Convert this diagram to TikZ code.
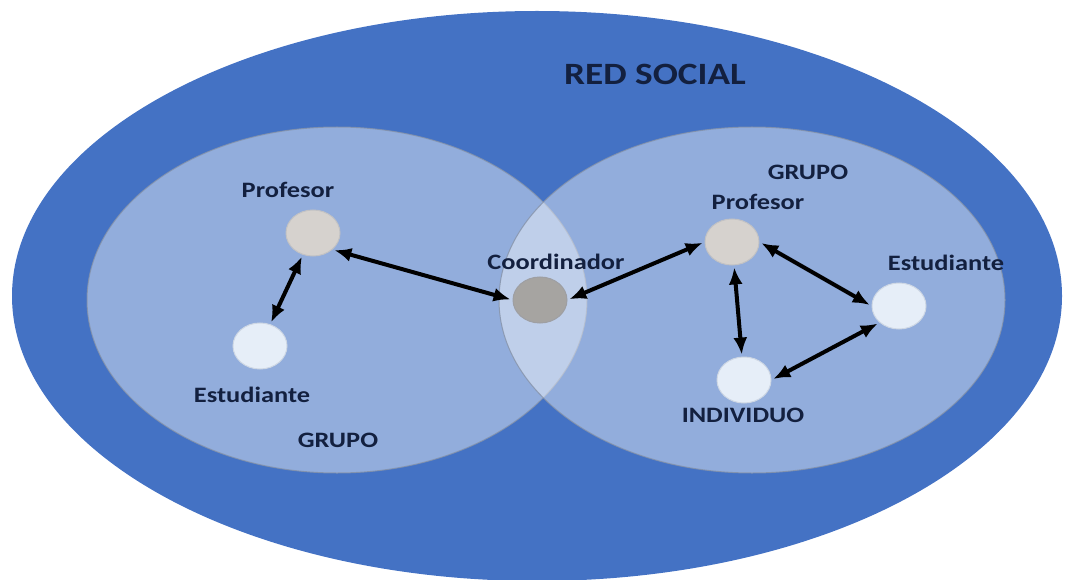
\documentclass[tikz,border=0pt]{standalone}
\usepackage{fontspec}
\newfontfamily\lblFont{Carlito}[FakeStretch=1.2]
\usetikzlibrary{shapes.geometric, arrows.meta, positioning}
\definecolor{netBlue}{HTML}{4472C4}
\definecolor{txtNavy}{HTML}{13203F}
\definecolor{profGrey}{HTML}{D6D2CE}
\definecolor{coordGrey}{HTML}{A6A4A1}
\definecolor{studWhite}{HTML}{E6EEF8}
\definecolor{rimGrey}{HTML}{8592A8}
\tikzset{
	personNode/.style={
		ellipse,
		minimum width=54pt,
		minimum height=46pt,
		inner sep=0pt,
		draw=#1!75!rimGrey,
		line width=1pt,
		fill=#1
	},
	profNode/.style={personNode=profGrey},
	coordNode/.style={personNode=coordGrey},
	studNode/.style={personNode=studWhite},
	groupFill/.style={
		fill=white,
		fill opacity=0.42,
		draw=rimGrey,
		draw opacity=0.8,
		line width=1pt
	},
	lblText/.style={
		anchor=base,
		text=txtNavy,
		font=\lblFont\bfseries\fontsize{22}{26}\selectfont
	},
	titleText/.style={
		anchor=base,
		text=txtNavy,
		font=\lblFont\bfseries\fontsize{31}{36}\selectfont
	},
}

\begin{document}
\begin{tikzpicture}[x=1pt, y=-1pt
    ,   linkEdge/.style={{Latex[length=17pt, width=14pt]}-{Latex[length=17pt, width=14pt]}, line width=4pt, black, shorten <=2pt, shorten >=2pt}]
\useasboundingbox (0,0) rectangle (1065,580);

% red social y grupos
\fill[netBlue] (537,296) ellipse [x radius=525pt, y radius=285pt];
\path[groupFill] (337,300) ellipse [x radius=250pt, y radius=173pt];
\path[groupFill] (752,300) ellipse [x radius=253pt, y radius=173pt];

\node[titleText] (tRed) at (655,85) {RED SOCIAL};
\node[lblText] (tGrpA) at (338,447) {GRUPO};
\node[lblText] (tGrpB) at (808,180) {GRUPO};

% personas
\node[profNode] (profA) at (313,233) {};
\node[studNode] (studA) at (260,346) {};
\node[coordNode] (coord) at (540,300) {};
\node[profNode] (profB) at (732,242) {};
\node[studNode] (studB) at (899,306) {};
\node[studNode] (indiv) at (744,380) {};

\node[lblText] (tProfA) at (288,198) {Profesor};
\node[lblText] (tStudA) at (252,402) {Estudiante};
\node[lblText] (tCoord) at (556,269) {Coordinador};
\node[lblText] (tProfB) at (758,209) {Profesor};
\node[lblText] (tStudB) at (946,270) {Estudiante};
\node[lblText] (tIndiv) at (743,422) {INDIVIDUO};

% relaciones
\draw[linkEdge] (profA) -- (studA);
\draw[linkEdge] (profA.south east) -- (coord.west);
\draw[linkEdge] (coord.east) -- (profB.west);
\draw[linkEdge] (profB) -- (indiv);
\draw[linkEdge] (profB.east) -- (studB.west);
\draw[linkEdge] (indiv.east) -- (studB.south west);

\end{tikzpicture}
\end{document}
